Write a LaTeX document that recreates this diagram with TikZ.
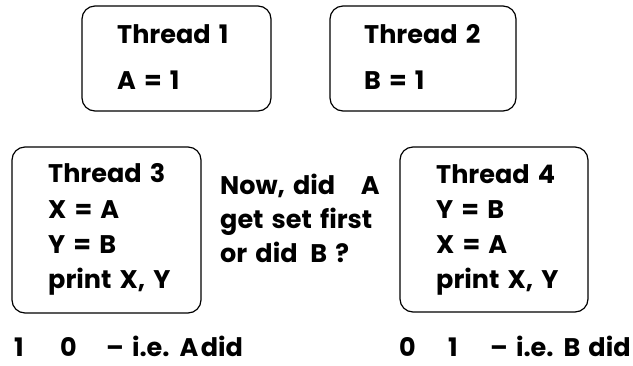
\documentclass[tikz,border=0pt]{standalone}
\usepackage{fontspec}
\setmainfont{Poppins}[WordSpace=1.5]
\begin{document}
\begin{tikzpicture}[x=1pt,y=-1pt,
  box/.style={draw=black,line width=1.2pt,rounded corners=13pt,inner sep=0pt},
  txt/.style={anchor=base west,inner sep=0pt,font=\fontsize{25.5}{28}\selectfont\bfseries}]
\useasboundingbox (0,0) rectangle (633,365);
\node[box,minimum width=189pt,minimum height=105pt] (b1) at (176.5,58.5) {};
\node[box,minimum width=186pt,minimum height=105pt] (b2) at (423,58.5) {};
\node[box,minimum width=189pt,minimum height=166pt] (b3) at (106.5,230) {};
\node[box,minimum width=188pt,minimum height=165pt] (b4) at (494,229.5) {};
% thread 1
\node[txt] (t1a) at (117,43) {Thread 1};
\node[txt] (t1b) at (117,89) {A = 1};
% thread 2
\node[txt] (t2a) at (364,43) {Thread 2};
\node[txt] (t2b) at (364,89) {B = 1};
% thread 3
\node[txt] (t3a) at (48,182) {Thread 3};
\node[txt] (t3b) at (48,218) {X = A};
\node[txt] (t3c) at (48,253) {Y = B};
\node[txt] (t3d) at (48,288) {print X, Y};
% thread 4
\node[txt] (t4a) at (436,183) {Thread 4};
\node[txt] (t4b) at (436,218) {Y = B};
\node[txt] (t4c) at (436,253) {X = A};
\node[txt] (t4d) at (436,288) {print X, Y};
% middle
\node[txt] (m1) at (220,194) {Now, did\hspace{1em}A};
\node[txt] (m2) at (220,228) {get set first};
\node[txt] (m3) at (220,262) {or did\hspace{0.5em}B ?};
% bottom
\node[txt] (r1a) at (14,356) {1};
\node[txt] (r1b) at (60,356) {0};
\node[txt] (r1c) at (106,356) {– i.e. A\hspace{0.1em}did};
\node[txt] (r2a) at (399,356) {0};
\node[txt] (r2b) at (448,356) {1};
\node[txt] (r2c) at (490,356) {– i.e. B did};
\end{tikzpicture}
\end{document}
